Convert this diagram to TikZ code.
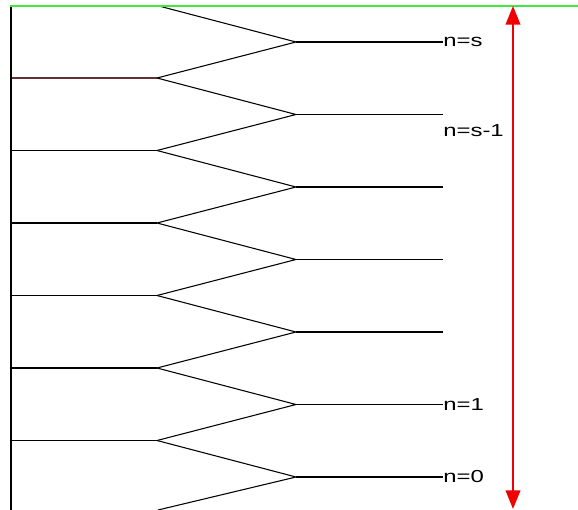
\documentclass[tikz,border=0pt]{standalone}
\usepackage{fontspec}
\setmainfont{Liberation Sans}
\usetikzlibrary{arrows.meta}
\definecolor{gridgreen}{RGB}{64,232,64}
\definecolor{levelred}{RGB}{240,0,0}
\definecolor{brownline}{RGB}{92,52,52}
\tikzset{
  wire/.style={line width=0.8pt, black},
  lbl/.style={anchor=west, inner sep=0pt, font=\fontsize{13}{15}\selectfont},
}
\newcommand{\wide}[1]{\scalebox{1.38}[1]{#1}}
\begin{document}
\begin{tikzpicture}[x=0.75pt, y=-0.75pt]
  \useasboundingbox (0,0) rectangle (578,510);
  % left junctions (j = 0..7) and right junctions / line ends (k = 0..6)
  \foreach \j in {0,...,7} {
    \coordinate (L\j) at (157, {5.5 + 72.5*\j});
    \coordinate (W\j) at (11, {5.5 + 72.5*\j});
  }
  \coordinate (L7) at (158,510);
  \foreach \k in {0,...,6} {
    \coordinate (R\k) at (296, {42 + 72.5*\k});
    \coordinate (E\k) at (443, {42 + 72.5*\k});
  }
  % horizontal feeds on the left
  \draw[line width=0.8pt, brownline] (W1) -- (L1);
  \foreach \j in {2,...,6} \draw[wire] (W\j) -- (L\j);
  % branching diagonals
  \foreach \k [evaluate=\k as \n using int(\k+1)] in {0,...,6} {
    \draw[wire] (L\k) -- (R\k) -- (L\n);
    \draw[wire] (R\k) -- (E\k);
  }
  % left wall and top boundary
  \coordinate (TL) at (11,6);
  \coordinate (BL) at (11,510);
  \coordinate (TR) at (578,6);
  \draw[line width=1.2pt, black] (TL) -- (BL);
  \draw[line width=2.2pt, gridgreen] (10,6) -- (TR);
  % level labels
  \node[lbl] (ls) at (E0) {\wide{n=s}};
  \node[lbl] (ls1) at (443,131) {\wide{n=s-1}};
  \node[lbl] (l1) at (E5) {\wide{n=1}};
  \node[lbl] (l0) at (E6) {\wide{n=0}};
  % total height arrow
  \coordinate (At) at (513,6);
  \coordinate (Ab) at (513,509);
  \draw[line width=1.3pt, levelred, {Triangle[width=11pt,length=14pt]}-{Triangle[width=11pt,length=14pt]}] (At) -- (Ab);
\end{tikzpicture}
\end{document}
